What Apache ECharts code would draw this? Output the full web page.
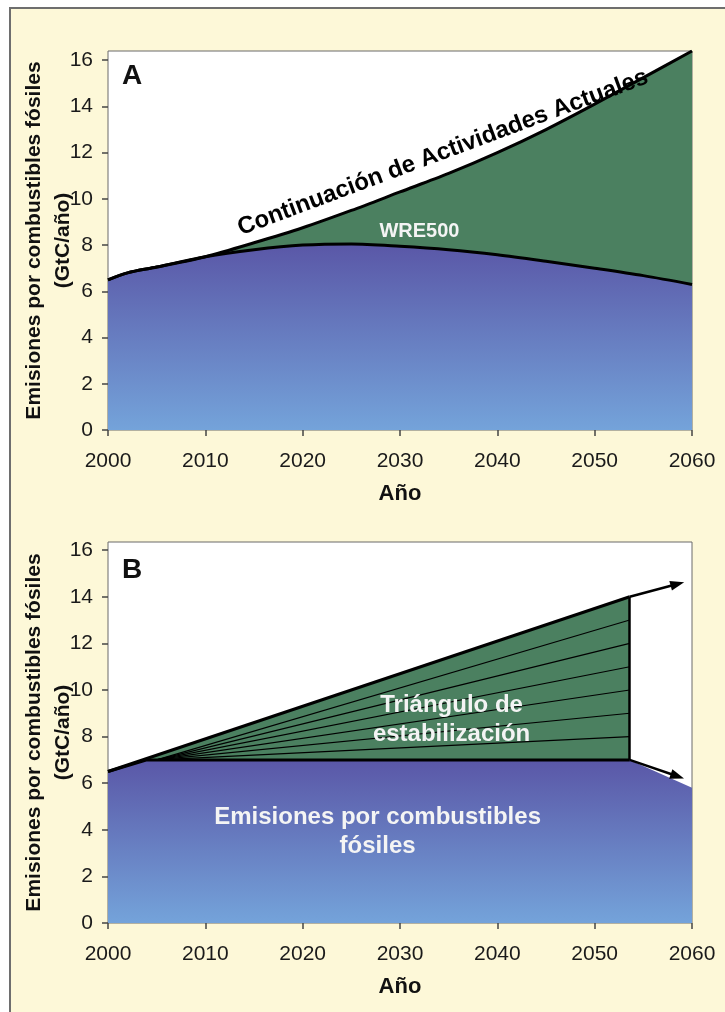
<!DOCTYPE html>
<html>
<head>
<meta charset="utf-8">
<script src="https://cdn.jsdelivr.net/npm/echarts@6.0.0/dist/echarts.min.js"></script>
<style>
  html, body { margin: 0; padding: 0; background: #fff; overflow: hidden; }
  #frame { position: absolute; left: 9px; top: 7px; width: 800px; height: 1100px;
           background: #fdf8d8; border: 2px solid #6e6e6e; }
  #main { position: absolute; left: 0; top: 0; width: 725px; height: 1012px; }
</style>
</head>
<body>
<div id="frame"></div>
<div id="main"></div>
<script>
// panel A: business as usual vs WRE500
var yearsA = [2000, 2002, 2005, 2010, 2015, 2020, 2025, 2030, 2035, 2040, 2045, 2050, 2055, 2060];
var bauA = [6.5, 6.8, 7.05, 7.5, 8.1, 8.75, 9.5, 10.3, 11.1, 12.0, 13.0, 14.1, 15.25, 16.4];
var wreA = [6.5, 6.8, 7.05, 7.5, 7.8, 8.0, 8.05, 7.95, 7.8, 7.58, 7.3, 7.0, 6.68, 6.3];

// panel B: stabilization triangle
var triEndYear = 2053.6;
var bauYearsB = [2000, triEndYear];
var bauB = [6.5, 14.0];
var fossilYearsB = [2000, 2004, triEndYear, 2060];
var fossilB = [6.5, 7.0, 7.0, 5.8];
var flatYearsB = [2000, 2004, triEndYear];
var flatB = [6.5, 7.0, 7.0];
var fanStart = [2005, 7.0];
var fanEnds = [8, 9, 10, 11, 12, 13];
var arrowUp = [[triEndYear, 14.0], [2058.5, 14.55]];
var arrowDown = [[triEndYear, 7.0], [2058.5, 6.3]];

var yTicks = [0, 2, 4, 6, 8, 10, 12, 14, 16];
var yName = 'Emisiones por combustibles fósiles\n(GtC/año)';

var FONT = '"Liberation Sans", Arial, sans-serif';
var GREEN = '#4b8060';

function pairs(xs, ys) {
  return xs.map(function (x, i) { return [x, ys[i]]; });
}

function blueGrad() {
  return new echarts.graphic.LinearGradient(0, 0, 0, 1, [
    { offset: 0, color: '#5a57a7' },
    { offset: 1, color: '#74a3da' }
  ]);
}

function xAxis(idx) {
  return {
    type: 'value', gridIndex: idx, min: 2000, max: 2060, interval: 10,
    name: 'Año', nameLocation: 'middle', nameGap: 53, nameMoveOverlap: false,
    nameTextStyle: { fontFamily: FONT, fontSize: 22, fontWeight: 'bold', color: '#111' },
    axisLine: { show: false },
    axisTick: { show: true, length: 6, lineStyle: { color: '#444', width: 1.5 } },
    axisLabel: { fontFamily: FONT, fontSize: 21, color: '#1a1a1a', margin: 21,
                 formatter: function (v) { return String(v); } },
    splitLine: { show: false }
  };
}

function yAxis(idx, max) {
  return {
    type: 'value', gridIndex: idx, min: 0, max: max,
    name: yName, nameLocation: 'middle', nameRotate: 90, nameGap: 30, nameMoveOverlap: false,
    nameTextStyle: { fontFamily: FONT, fontSize: 21, fontWeight: 'bold', color: '#111', lineHeight: 29 },
    axisLine: { show: false },
    axisTick: { show: true, length: 6, customValues: yTicks, lineStyle: { color: '#444', width: 1.5 } },
    axisLabel: { fontFamily: FONT, fontSize: 21, color: '#1a1a1a', margin: 15, customValues: yTicks },
    splitLine: { show: false }
  };
}

function arrowSeries(seg) {
  return {
    type: 'line', xAxisIndex: 1, yAxisIndex: 1, z: 6, showSymbol: true,
    lineStyle: { color: '#000', width: 2.5 },
    itemStyle: { color: '#000' },
    data: [
      { value: seg[0], symbol: 'none' },
      { value: seg[1], symbol: 'triangle', symbolSize: [10, 14], symbolRotate: 0 }
    ]
  };
}

var chart = echarts.init(document.getElementById('main'), null, { renderer: 'canvas' });

var option = {
  animation: false,
  title: [
    { text: 'A', left: 117, top: 57, textStyle: { fontFamily: FONT, fontSize: 28, fontWeight: 'bold', color: '#111' } },
    { text: 'B', left: 117, top: 551, textStyle: { fontFamily: FONT, fontSize: 28, fontWeight: 'bold', color: '#111' } }
  ],
  grid: [
    { left: 108, top: 51, width: 584, height: 379, show: true, backgroundColor: '#fff',
      borderColor: '#6a6a6a', borderWidth: 1, containLabel: false, outerBoundsMode: 'none' },
    { left: 108, top: 542, width: 584, height: 381, show: true, backgroundColor: '#fff',
      borderColor: '#6a6a6a', borderWidth: 1, containLabel: false, outerBoundsMode: 'none' }
  ],
  xAxis: [xAxis(0), xAxis(1)],
  yAxis: [yAxis(0, 16.4), yAxis(1, 16.35)],
  series: [
    // A
    {
      type: 'line', xAxisIndex: 0, yAxisIndex: 0, smooth: 0.3, symbol: 'none',
      data: pairs(yearsA, bauA),
      lineStyle: { color: '#000', width: 3 },
      areaStyle: { color: GREEN, opacity: 1 }
    },
    {
      type: 'line', xAxisIndex: 0, yAxisIndex: 0, smooth: 0.3, symbol: 'none',
      data: pairs(yearsA, wreA),
      lineStyle: { color: '#000', width: 3 },
      areaStyle: { color: blueGrad(), opacity: 1 }
    },
    // B
    {
      type: 'line', xAxisIndex: 1, yAxisIndex: 1, symbol: 'none',
      data: pairs(bauYearsB, bauB),
      lineStyle: { color: '#000', width: 3 },
      areaStyle: { color: GREEN, opacity: 1 }
    },
    {
      type: 'line', xAxisIndex: 1, yAxisIndex: 1, symbol: 'none',
      data: pairs(fossilYearsB, fossilB),
      lineStyle: { width: 0 },
      areaStyle: { color: blueGrad(), opacity: 1 }
    },
    {
      type: 'line', xAxisIndex: 1, yAxisIndex: 1, symbol: 'none',
      data: pairs(flatYearsB, flatB),
      lineStyle: { color: '#000', width: 3 }
    },
    {
      type: 'line', xAxisIndex: 1, yAxisIndex: 1, symbol: 'none', z: 5,
      data: [fanStart],
      markLine: {
        silent: true, symbol: 'none', label: { show: false },
        lineStyle: { color: '#000', width: 1.1, type: 'solid' },
        data: fanEnds.map(function (v) {
          return [{ coord: fanStart }, { coord: [triEndYear, v] }];
        }).concat([[
          { coord: [triEndYear, 7.0], lineStyle: { width: 2.5 } },
          { coord: [triEndYear, 14.0] }
        ]])
      }
    },
    arrowSeries(arrowUp),
    arrowSeries(arrowDown)
  ]
};

chart.setOption(option);

function px(grid, pt) {
  return chart.convertToPixel({ gridIndex: grid }, pt);
}

// point the arrow heads along their segments
function headRotation(seg) {
  var a = px(1, seg[0]);
  var b = px(1, seg[1]);
  var deg = Math.atan2(a[1] - b[1], b[0] - a[0]) * 180 / Math.PI;
  return deg - 90;
}

var upSeries = arrowSeries(arrowUp);
upSeries.data[1].symbolRotate = headRotation(arrowUp);
var downSeries = arrowSeries(arrowDown);
downSeries.data[1].symbolRotate = headRotation(arrowDown);

var pCont = px(0, [2034.4, 12.0]);
var pWre = px(0, [2032, 8.6]);
var pTri = px(1, [2035.3, 8.7]);
var pFos = px(1, [2027.7, 3.9]);

chart.setOption({
  series: [{}, {}, {}, {}, {}, {}, upSeries, downSeries],
  graphic: [
    {
      type: 'text', x: pCont[0], y: pCont[1], rotation: 20.5 * Math.PI / 180, z: 10,
      style: { text: 'Continuación de Actividades Actuales', fontFamily: FONT, fontSize: 24,
               fontWeight: 'bold', fill: '#000', align: 'center', verticalAlign: 'middle' }
    },
    {
      type: 'text', x: pWre[0], y: pWre[1], z: 10,
      style: { text: 'WRE500', fontFamily: FONT, fontSize: 20, fontWeight: 'bold',
               fill: '#f4f4f4', align: 'center', verticalAlign: 'middle' }
    },
    {
      type: 'text', x: pTri[0], y: pTri[1], z: 10,
      style: { text: 'Triángulo de\nestabilización', fontFamily: FONT, fontSize: 24, fontWeight: 'bold',
               lineHeight: 29, fill: '#f4f4f4', align: 'center', verticalAlign: 'middle' }
    },
    {
      type: 'text', x: pFos[0], y: pFos[1], z: 10,
      style: { text: 'Emisiones por combustibles\nfósiles', fontFamily: FONT, fontSize: 24, fontWeight: 'bold',
               lineHeight: 29, fill: '#f4f4f4', align: 'center', verticalAlign: 'middle' }
    }
  ]
});
</script>
</body>
</html>
